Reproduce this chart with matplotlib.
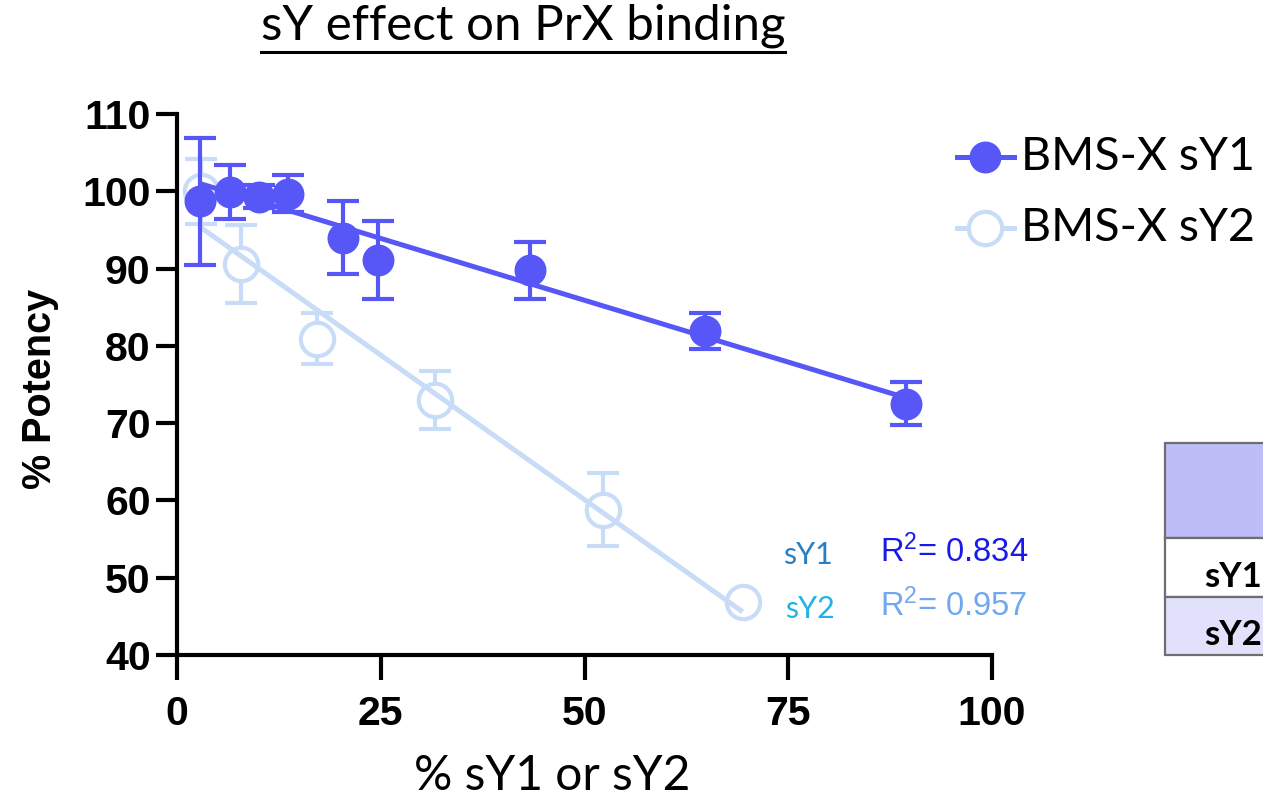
import matplotlib
matplotlib.use("Agg")
import matplotlib.pyplot as plt
from matplotlib.lines import Line2D
from matplotlib.patches import Rectangle
import numpy as np

plt.rcParams['mathtext.fontset'] = 'custom'
plt.rcParams['mathtext.rm'] = 'Liberation Sans'
plt.rcParams['mathtext.it'] = 'Liberation Sans'

# ---------------- data ----------------
sy1_x = [2.8, 6.5, 10.0, 13.6, 20.4, 24.7, 43.3, 64.8, 89.4]
sy1_y = [98.7, 99.9, 99.3, 99.7, 94.0, 91.1, 89.8, 81.9, 72.5]
sy1_err = [8.2, 3.5, 1.5, 2.4, 4.7, 5.0, 3.7, 2.3, 2.8]

sy2_x = [2.9, 7.9, 17.2, 31.7, 52.3, 69.4]
sy2_y = [100.0, 90.6, 80.9, 73.0, 58.8, 46.8]
sy2_err = [4.2, 5.0, 3.3, 3.7, 4.7, 0.0]

# linear fits (slope, intercept) as reported
sy1_fit = (-0.320, 101.9)
sy2_fit = (-0.748, 97.5)
sy1_r2 = 0.834
sy2_r2 = 0.957

series_labels = ["BMS-X sY1", "BMS-X sY2"]
table_rows = ["sY1", "sY2"]
xticks = [0, 25, 50, 75, 100]
yticks = [40, 50, 60, 70, 80, 90, 100, 110]

c1 = "#5757F7"
c2 = "#C8DCF8"

W, H = 1263, 799
fig = plt.figure(figsize=(W / 100, H / 100), dpi=100)

def fx(px):
    return px / W

def fy(py):
    return 1 - py / H

ax_l, ax_r, ax_t, ax_b = 177, 992, 114, 655
ax = fig.add_axes([fx(ax_l), fy(ax_b), fx(ax_r) - fx(ax_l), fy(ax_t) - fy(ax_b)])
ax.set_xlim(0, 100)
ax.set_ylim(40, 110)
for s in ["top", "right"]:
    ax.spines[s].set_visible(False)
for s in ["left", "bottom"]:
    ax.spines[s].set_linewidth(3)
    ax.spines[s].set_capstyle("projecting")
ax.set_xticks(xticks)
ax.set_yticks(yticks)
ax.tick_params(axis="y", length=15, width=3, pad=4, labelsize=29.5)
ax.tick_params(axis="x", length=18, width=3, pad=11, labelsize=29.5)
for lab in ax.get_xticklabels() + ax.get_yticklabels():
    lab.set_fontfamily("Liberation Sans")
    lab.set_fontweight("bold")

# sY2 series
ax.errorbar(sy2_x, sy2_y, yerr=sy2_err, fmt="none", ecolor=c2, elinewidth=3,
            capsize=11.5, capthick=3, zorder=2, clip_on=False)
ax.plot(sy2_x, sy2_y, "o", ms=24, mfc="white", mec=c2, mew=3, zorder=3, clip_on=False)
xf2 = np.array([min(sy2_x), max(sy2_x)])
ax.plot(xf2, sy2_fit[0] * xf2 + sy2_fit[1], color=c2, lw=3.6, zorder=3.5,
        solid_capstyle="butt")

# sY1 series
xf1 = np.array([min(sy1_x), max(sy1_x)])
ax.plot(xf1, sy1_fit[0] * xf1 + sy1_fit[1], color=c1, lw=3.6, zorder=4,
        solid_capstyle="butt")
ax.errorbar(sy1_x, sy1_y, yerr=sy1_err, fmt="none", ecolor=c1, elinewidth=3,
            capsize=11.5, capthick=3, zorder=5, clip_on=False)
ax.plot(sy1_x, sy1_y, "o", ms=23, mfc=c1, mec=c1, mew=0, zorder=6, clip_on=False)

# labels
font_c = "Lato"
fig.text(fx(40), fy(389), "% Potency", rotation=90, ha="center", va="center",
         fontsize=28.5, fontweight="bold", family="Liberation Sans")
fig.text(fx(552), fy(776), "% sY1 or sY2", ha="center", va="center",
         fontsize=34.5, family=font_c)
title = fig.text(fx(523), fy(26), "sY effect on PrX binding", ha="center", va="center",
                 fontsize=35.5, family=font_c)

# R^2 annotations
fig.text(fx(808), fy(555), "sY1", ha="center", va="center", fontsize=22,
         family=font_c, color="#2880C4")
fig.text(fx(810), fy(609), "sY2", ha="center", va="center", fontsize=22,
         family=font_c, color="#22B2E8")
fig.text(fx(880), fy(552), r"R$^{2}$= %.3f" % sy1_r2, ha="left", va="center",
         fontsize=23.5, family="Liberation Sans", color="#1A1AE8")
fig.text(fx(880), fy(606), r"R$^{2}$= %.3f" % sy2_r2, ha="left", va="center",
         fontsize=23.5, family="Liberation Sans", color="#70A8F0")

# legend (manual)
for i, (lab, yy) in enumerate(zip(series_labels, [157, 228])):
    fig.add_artist(Line2D([fx(957), fx(1014)], [fy(yy), fy(yy)], color=[c1, c2][i], lw=3.6,
                          transform=fig.transFigure))
    if i == 0:
        fig.add_artist(Line2D([fx(985)], [fy(yy)], marker="o", ms=23, mfc=c1, mew=0,
                              transform=fig.transFigure))
    else:
        fig.add_artist(Line2D([fx(985)], [fy(yy)], marker="o", ms=24, mfc="white", mec=c2,
                              mew=3, transform=fig.transFigure))
    fig.text(fx(1021), fy(yy), lab, ha="left", va="center", fontsize=33.5, family=font_c)

# partial table on the right
rows = [(443, 538, "#BDBDF8", "", 0), (538, 597, "white", table_rows[0], 587),
        (597, 655, "#E1E1FC", table_rows[1], 645)]
for top, bot, fc, txt, base in rows:
    fig.add_artist(Rectangle((fx(1165), fy(bot)), fx(1300) - fx(1165), fy(top) - fy(bot),
                             transform=fig.transFigure, facecolor=fc, edgecolor="#6E6E6E",
                             lw=1.6))
    if txt:
        fig.text(fx(1204), fy(base), txt, ha="left", va="baseline", fontsize=25,
                 fontweight="bold", family=font_c)

# underline title
fig.canvas.draw()
bb = title.get_window_extent()
fig.add_artist(Line2D([bb.x0 / W, bb.x1 / W], [fy(52), fy(52)], color="black", lw=2.2,
                      transform=fig.transFigure))

fig.savefig("out.png", dpi=100)
